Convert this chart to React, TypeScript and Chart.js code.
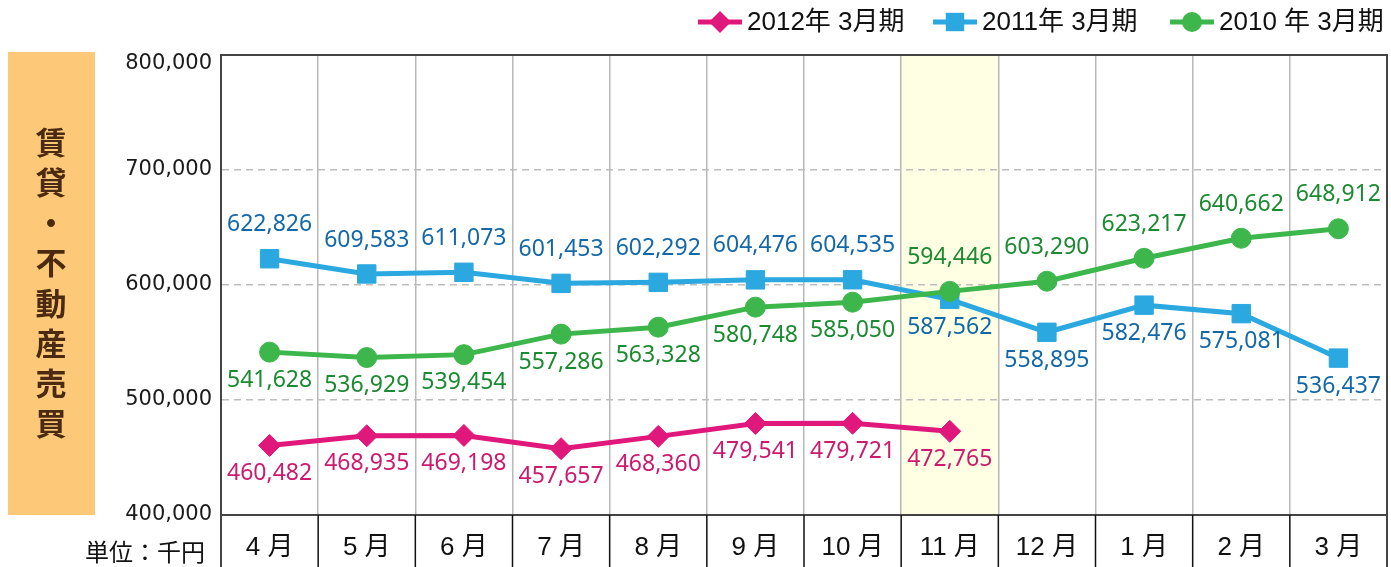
import React, { useEffect, useRef } from 'react';
import { Chart, registerables } from 'chart.js';

Chart.register(...registerables);

const months = ['4 月', '5 月', '6 月', '7 月', '8 月', '9 月', '10 月', '11 月', '12 月', '1 月', '2 月', '3 月'];
const fy2012 = [460482, 468935, 469198, 457657, 468360, 479541, 479721, 472765, null, null, null, null];
const fy2011 = [622826, 609583, 611073, 601453, 602292, 604476, 604535, 587562, 558895, 582476, 575081, 536437];
const fy2010 = [541628, 536929, 539454, 557286, 563328, 580748, 585050, 594446, 603290, 623217, 640662, 648912];
const seriesNames = ['2012年 3月期', '2011年 3月期', '2010 年 3月期'];
const yMin = 400000;
const yMax = 800000;
const yStep = 100000;
const highlightIndex = 7;
const sideTitle = ['賃', '貸', '・', '不', '動', '産', '売', '買'];
const unitLabel = '単位：千円';

const MAG = '#e0187c';
const BLUE = '#2ba8e0';
const GREEN = '#3db64b';
const lineColors = [MAG, BLUE, GREEN];
const textColors = ['#cc1a6f', '#1468a8', '#1b8a30'];
const pointStyles = ['rectRot', 'rect', 'circle'];
const pointRadii = [11, 13, 10];

const fmt = (v: number) => v.toLocaleString('en-US');

function drawMarker(ctx: CanvasRenderingContext2D, style: string, x: number, y: number, r: number, color: string) {
  ctx.save();
  ctx.fillStyle = color;
  ctx.beginPath();
  if (style === 'rectRot') {
    ctx.moveTo(x, y - r);
    ctx.lineTo(x + r, y);
    ctx.lineTo(x, y + r);
    ctx.lineTo(x - r, y);
    ctx.closePath();
  } else if (style === 'rect') {
    const s = r * Math.SQRT1_2;
    ctx.rect(x - s, y - s, 2 * s, 2 * s);
  } else {
    ctx.arc(x, y, r, 0, Math.PI * 2);
  }
  ctx.fill();
  ctx.restore();
}

const decorPlugin = {
  id: 'decor',
  beforeDraw(chart: any) {
    const { ctx, chartArea } = chart;
    const xs = chart.scales.x;
    const colW = (chartArea.right - chartArea.left) / months.length;
    const cx = xs.getPixelForValue(highlightIndex);
    ctx.save();
    ctx.fillStyle = '#ffffe4';
    ctx.fillRect(cx - colW / 2, chartArea.top, colW, chartArea.bottom - chartArea.top);
    ctx.restore();
  },
  afterDatasetsDraw(chart: any) {
    const { ctx } = chart;
    const all = [fy2012, fy2011, fy2010];
    ctx.save();
    ctx.font = '23px "Noto Sans", "Open Sans", sans-serif';
    ctx.textAlign = 'center';
    ctx.textBaseline = 'middle';
    all.forEach((series, si) => {
      const meta = chart.getDatasetMeta(si);
      series.forEach((v, i) => {
        if (v == null) return;
        const pt = meta.data[i];
        const others = all.map((s) => s[i]).filter((o) => o != null) as number[];
        const above = v >= Math.max(...others);
        ctx.fillStyle = textColors[si];
        ctx.fillText(fmt(v), pt.x, pt.y + (above ? -34 : 28));
      });
    });
    ctx.restore();
  },
  afterDraw(chart: any) {
    const { ctx, chartArea, height } = chart;
    const ys = chart.scales.y;
    const colW = (chartArea.right - chartArea.left) / months.length;
    ctx.save();
    // top & right borders
    ctx.strokeStyle = '#444';
    ctx.lineWidth = 2;
    ctx.beginPath();
    ctx.moveTo(chartArea.left - 1, chartArea.top);
    ctx.lineTo(chartArea.right, chartArea.top);
    ctx.lineTo(chartArea.right, height);
    ctx.moveTo(chartArea.left, chartArea.top);
    ctx.lineTo(chartArea.left, height);
    ctx.stroke();
    // separators under axis
    ctx.strokeStyle = '#111';
    ctx.lineWidth = 1.5;
    ctx.beginPath();
    for (let i = 1; i < months.length; i++) {
      const x = chartArea.left + i * colW;
      ctx.moveTo(x, chartArea.bottom);
      ctx.lineTo(x, height);
    }
    ctx.stroke();

    // y tick labels (kept inside the plot's top edge)
    ctx.fillStyle = '#1a1a1a';
    ctx.font = '21px "DejaVu Sans", sans-serif';
    ctx.textAlign = 'right';
    ctx.textBaseline = 'middle';
    ys.ticks.forEach((t: any) => {
      const y = Math.max(ys.getPixelForValue(t.value), chartArea.top + 9);
      ctx.fillText(fmt(t.value), chartArea.left - 9, y);
    });

    // left title box
    ctx.fillStyle = '#fdc878';
    ctx.fillRect(8, 52, 87, chartArea.bottom - 52);
    ctx.fillStyle = '#4a2a10';
    ctx.font = 'bold 31px "Noto Sans CJK JP", sans-serif';
    ctx.textAlign = 'center';
    ctx.textBaseline = 'middle';
    sideTitle.forEach((ch, i) => {
      ctx.fillText(ch, 51, 142 + i * 40.2);
    });

    // unit label
    ctx.fillStyle = '#111';
    ctx.font = '24px "Noto Sans CJK JP", sans-serif';
    ctx.textAlign = 'right';
    ctx.fillText(unitLabel, 205, 552);

    // legend
    const starts = [698, 933, 1170];
    ctx.font = '26px "Liberation Sans", "Noto Sans CJK JP", sans-serif';
    ctx.textAlign = 'left';
    seriesNames.forEach((name, si) => {
      const x0 = starts[si];
      const y = 22;
      ctx.strokeStyle = lineColors[si];
      ctx.lineWidth = 5;
      ctx.beginPath();
      ctx.moveTo(x0, y);
      ctx.lineTo(x0 + 44, y);
      ctx.stroke();
      drawMarker(ctx, pointStyles[si], x0 + 22, y, pointRadii[si], lineColors[si]);
      ctx.fillStyle = '#111';
      ctx.fillText(name, x0 + 49, y + 1);
    });
    ctx.restore();
  },
};

export default function App() {
  const ref = useRef<HTMLCanvasElement | null>(null);
  useEffect(() => {
    if (!ref.current) return;
    const data = [fy2012, fy2011, fy2010];
    const chart = new Chart(ref.current, {
      type: 'line',
      data: {
        labels: months,
        datasets: data.map((d, i) => ({
          label: seriesNames[i],
          data: d,
          borderColor: lineColors[i],
          backgroundColor: lineColors[i],
          pointBackgroundColor: lineColors[i],
          pointBorderColor: lineColors[i],
          pointBorderWidth: 1,
          pointStyle: pointStyles[i] as any,
          pointRadius: pointRadii[i],
          borderWidth: 5,
          tension: 0,
          spanGaps: false,
          order: i === 2 ? 0 : i === 0 ? 1 : 2,
        })),
      },
      options: {
        responsive: false,
        animation: false,
        layout: { autoPadding: false, padding: { top: 55, right: 4, left: 0, bottom: 0 } },
        plugins: { legend: { display: false }, tooltip: { enabled: false } },
        scales: {
          x: {
            type: 'category',
            offset: true,
            grid: { offset: true, color: '#b8b8b8', lineWidth: 1.5, drawTicks: false },
            border: { color: '#444', width: 2 },
            ticks: {
              color: '#111',
              padding: 17,
              font: { family: '"Liberation Sans", "Noto Sans CJK JP", sans-serif', size: 26 },
              maxRotation: 0,
              autoSkip: false,
            },
            afterFit: (s: any) => {
              s.height = 52;
              s.paddingLeft = 0;
              s.paddingRight = 0;
            },
          },
          y: {
            min: yMin,
            max: yMax,
            grid: { color: '#bdbdbd', lineWidth: 1.5, drawTicks: false },
            border: { color: '#444', width: 2, dash: [7, 5] },
            ticks: {
              stepSize: yStep,
              display: false,
            },
            afterFit: (s: any) => {
              s.width = 221;
              s.paddingTop = 0;
              s.paddingBottom = 0;
            },
          },
        },
      },
      plugins: [decorPlugin],
    });
    return () => chart.destroy();
  }, []);
  return (
    <div style={{ position: 'fixed', left: 0, top: 0, width: 1391, height: 567, background: '#fff' }}>
      <canvas ref={ref} width={1391} height={567} style={{ width: 1391, height: 567, display: 'block' }} />
    </div>
  );
}
